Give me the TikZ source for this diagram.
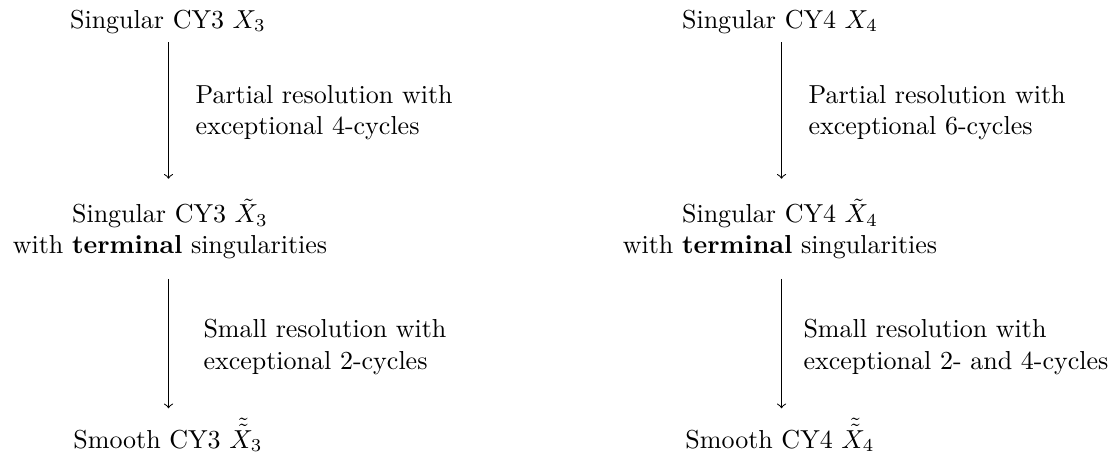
\documentclass[tikz,border=0pt]{standalone}
\usepackage{amsmath}
\begin{document}
\begin{tikzpicture}[x=0.3846pt,y=-0.3846pt,
  stage/.style={align=center,inner sep=0pt},
  note/.style={align=left,anchor=west,inner sep=0pt},
  mapto/.style={->},
  upper/.style={shorten <=3.3pt,shorten >=7.5pt},
  lower/.style={shorten <=7.3pt,shorten >=3.5pt}]
\useasboundingbox (0,0) rectangle (1112,454);
% left column
\node[stage,anchor=base] (a1) at (168,28) {Singular CY3 $X_3$};
\node[stage] (a2) at (170,229) {Singular CY3 $\tilde{X}_3$\\ with \textbf{terminal} singularities};
\node[stage,anchor=base] (a3) at (168,448) {Smooth CY3 $\tilde{\tilde{X}}_3$};
\draw[mapto,upper] (a1.south -| 168.5,0) -- (a2.north -| 168.5,0);
\draw[mapto,lower] (a2.south -| 168.5,0) -- (a3.north -| 168.5,0);
\node[note] (l1) at (195,113) {Partial resolution with\\exceptional 4-cycles};
\node[note] (l2) at (203,347) {Small resolution with\\exceptional 2-cycles};
% right column
\node[stage,anchor=base] (b1) at (780,28) {Singular CY4 $X_4$};
\node[stage] (b2) at (780,229) {Singular CY4 $\tilde{X}_4$\\ with \textbf{terminal} singularities};
\node[stage,anchor=base] (b3) at (780,448) {Smooth CY4 $\tilde{\tilde{X}}_4$};
\draw[mapto,upper] (b1.south -| 781.5,0) -- (b2.north -| 781.5,0);
\draw[mapto,lower] (b2.south -| 781.5,0) -- (b3.north -| 781.5,0);
\node[note] (r1) at (808,113) {Partial resolution with\\exceptional 6-cycles};
\node[note] (r2) at (803,347) {Small resolution with\\exceptional 2- and 4-cycles};
\end{tikzpicture}
\end{document}
